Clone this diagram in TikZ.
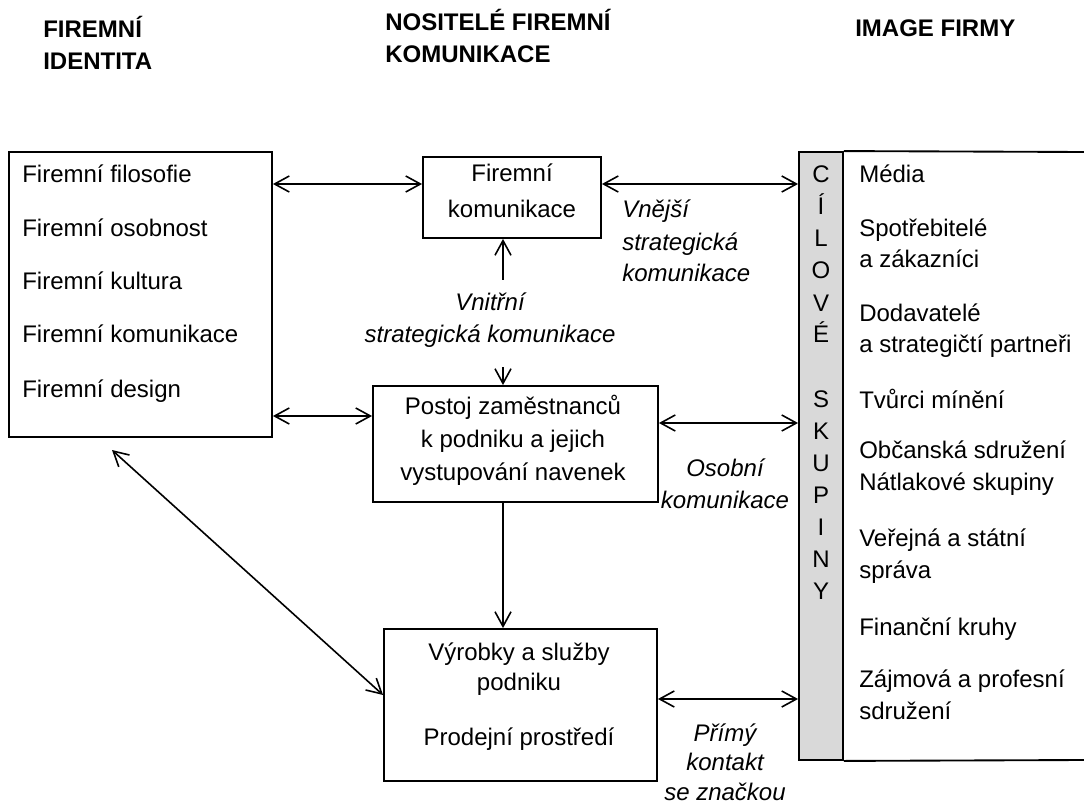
\documentclass[tikz,border=0pt]{standalone}
\usepackage{fontspec}
\setmainfont{Liberation Sans}
\usetikzlibrary{arrows.meta}

\definecolor{sedapruh}{HTML}{D9D9D9}
\def\jed{0.75pt}

\tikzset{
  ram/.style={draw, line width=1.4pt, inner sep=0pt},
  sipka/.style={line width=1.2pt, >={Straight Barb[length=11pt,width=12pt]}},
  txt/.style={inner sep=0pt, font=\fontsize{18}{24}\selectfont},
  kurz/.style={inner sep=0pt, font=\fontsize{18}{24}\selectfont\itshape},
  nadpis/.style={inner sep=0pt, font=\fontsize{18}{24}\selectfont\bfseries, anchor=base west, align=left},
}

\begin{document}
\begin{tikzpicture}[x=\jed, y=-\jed]
	\useasboundingbox (0,0) rectangle (1084,805);
	% nadpisy (kotva = uctari posledniho radku)
	\node[nadpis] (hident) at (43,70) {FIREMNÍ\\IDENTITA};
	\node[nadpis] (hnosit) at (385,63) {NOSITELÉ FIREMNÍ\\KOMUNIKACE};
	\node[nadpis] (himage) at (855,37) {IMAGE FIRMY};

	% ramecky
	\node[ram, minimum width=263*\jed, minimum height=285*\jed] (ident) at (140.5,294.5) {};
	\node[ram, minimum width=178*\jed, minimum height=81*\jed] (fk) at (512,197.5) {};
	\node[ram, minimum width=285*\jed, minimum height=116*\jed] (postoj) at (515.5,444) {};
	\node[ram, minimum width=273*\jed, minimum height=152*\jed] (vyrobky) at (520.5,705) {};
	\node[ram, fill=sedapruh, minimum width=44*\jed, minimum height=608*\jed] (bar) at (821,456) {};
	\draw[line width=1.4pt] (bar.north east) -- (1084,152);
	\draw[line width=1.4pt] (bar.south east) -- (1084,760);

	% firemni identita
	\foreach \t/\y [count=\i] in {Firemní filosofie/183, Firemní osobnost/237, Firemní kultura/290, Firemní komunikace/343, Firemní design/397}
		\node[txt, anchor=base west] (fi\i) at (22,\y) {\t};

	% texty v rameccich
	\node[txt, anchor=base] (fk1) at (512,182) {Firemní};
	\node[txt, anchor=base] (fk2) at (512,218) {komunikace};
	\node[txt, anchor=base, align=center, font=\fontsize{18}{24.5}\selectfont] (pos) at (513,480) {Postoj zaměstnanců\\k podniku a jejich\\vystupování navenek};
	\node[txt, anchor=base, align=center, font=\fontsize{18}{22.5}\selectfont] (vyr1) at (519,690) {Výrobky a služby\\podniku};
	\node[txt, anchor=base] (vyr2) at (519,745) {Prodejní prostředí};

	% cilove skupiny
	\foreach \p/\k in {C/0, Í/1, L/2, O/3, V/4, É/5, S/7, K/8, U/9, P/10, I/11, N/12, Y/13}
		\node[txt, anchor=base] (cs\k) at (821,183+32*\k) {\p};
	\foreach \t/\y [count=\i] in {Média/183, Spotřebitelé\\a zákazníci/268, Dodavatelé\\a strategičtí partneři/353, Tvůrci mínění/408, Občanská sdružení\\Nátlakové skupiny/490, Veřejná a státní\\správa/578, Finanční kruhy/635, Zájmová a profesní\\sdružení/719}
		\node[txt, anchor=base west, align=left, font=\fontsize{18}{23.5}\selectfont] (sk\i) at (859,\y) {\t};

	% popisky
	\node[kurz, anchor=base west, align=left] (vnejsi) at (622,282) {Vnější\\strategická\\komunikace};
	\node[kurz, anchor=base, align=center] (vnitrni) at (490,342) {Vnitřní\\strategická komunikace};
	\node[kurz, anchor=base, align=center, font=\fontsize{18}{23.5}\selectfont\itshape] (osobni) at (725,508) {Osobní\\komunikace};
	\node[kurz, anchor=base, align=center, font=\fontsize{18}{22}\selectfont\itshape] (primy) at (725,800) {Přímý\\kontakt\\se značkou};

	% sipky
	\coordinate (vn1) at (503,280);
	\coordinate (vn2) at (503,367);
	\coordinate (diag) at (112,450);
	\draw[sipka, <->] (ident.east |- 0,184) -- (fk.west |- 0,184);
	\draw[sipka, <->] (fk.east |- 0,184) -- (bar.west |- 0,184);
	\draw[sipka, <->] (ident.east |- 0,416) -- (postoj.west |- 0,416);
	\draw[sipka, <->] (postoj.east |- 0,423) -- (bar.west |- 0,423);
	\draw[sipka, <->] (vyrobky.east |- 0,699) -- (bar.west |- 0,699);
	\draw[sipka, ->] (vn1) -- (vn1 |- fk.south);
	\draw[sipka, ->] (vn2) -- (vn2 |- postoj.north);
	\draw[sipka, ->] (postoj.south -| 503,0) -- (vyrobky.north -| 503,0);
	\draw[sipka, <->] (diag) -- (vyrobky.west |- 0,695);
\end{tikzpicture}
\end{document}
